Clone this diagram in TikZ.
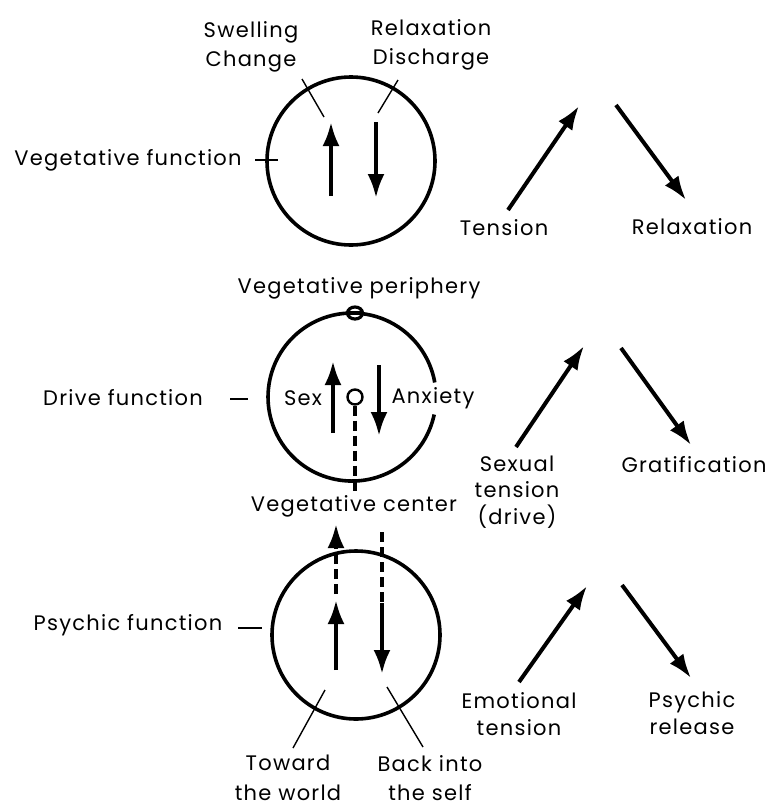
\documentclass[tikz,border=0pt]{standalone}
\usepackage{fontspec}
\setmainfont[LetterSpace=6]{Poppins}
\usetikzlibrary{arrows.meta}

\begin{document}
\begin{tikzpicture}[x=0.5pt,y=-0.5pt,
  lbl/.style={font=\fontsize{10.5}{14.8}\selectfont,inner sep=0pt,align=center},
  tight/.style={font=\fontsize{10.5}{13.3}\selectfont},
  ring/.style={line width=1.8pt},
  flow/.style={line width=2pt,-{Latex[length=12pt,width=8.5pt]}},
  dashflow/.style={flow,dash pattern=on 5pt off 2.5pt},
  lead/.style={line width=0.7pt},
  tick/.style={line width=1pt}]
\useasboundingbox (0,0) rectangle (774,809);

% vegetative function
\draw[ring] (351,161) circle (84);
\node[lbl] (vegfn) at (128,160) {Vegetative function};
\node[lbl] (swell) at (251,47) {Swelling\\Change};
\node[lbl] (relaxd) at (431,45) {Relaxation\\Discharge};
\coordinate (vt1) at (255,160); \coordinate (vt2) at (278,160);
\draw[tick] (vt1) -- (vt2);
\coordinate (sw1) at (302,79); \coordinate (sw2) at (324,117);
\coordinate (rd1) at (398,80); \coordinate (rd2) at (378,113);
\draw[lead] (sw1) -- (sw2);
\draw[lead] (rd1) -- (rd2);
\coordinate (vu1) at (331,196); \coordinate (vu2) at (331,122);
\coordinate (vd1) at (376,122); \coordinate (vd2) at (376,198);
\draw[flow] (vu1) -- (vu2);
\draw[flow] (vd1) -- (vd2);

% drive function
\draw[ring] (434.2,414.5) arc (12:350:84);
\draw[line width=1.6pt,fill=white] (355,313) ellipse (7.5 and 6);
\draw[ring] (348,313) -- (362,313);
\node[lbl] (periph) at (359,288) {Vegetative periphery};
\node[lbl] (drivefn) at (123,398) {Drive function};
\node[lbl] (sex) at (303,398) {Sex};
\node[lbl] (anx) at (433,398) {Anxiety};
\node[lbl] (vegctr) at (354,506) {Vegetative center};
\coordinate (dt1) at (230,399); \coordinate (dt2) at (248,399);
\draw[tick] (dt1) -- (dt2);
\node[circle,draw,line width=1.2pt,minimum size=7.5pt,inner sep=0pt] (core) at (355,397) {};
\coordinate (cd) at (355,493);
\draw[line width=2pt,dash pattern=on 5pt off 2.5pt] (core) -- (cd);
\coordinate (du1) at (333,433); \coordinate (du2) at (333,361);
\coordinate (dd1) at (379,365); \coordinate (dd2) at (379,436);
\draw[flow] (du1) -- (du2);
\draw[flow] (dd1) -- (dd2);

% psychic function
\draw[ring] (356,635) circle (84);
\node[lbl] (psyfn) at (128,625) {Psychic function};
\node[lbl] (toward) at (288,778) {Toward\\the world};
\node[lbl] (backin) at (430,778) {Back into\\the self};
\coordinate (pt1) at (238,628); \coordinate (pt2) at (262,628);
\draw[tick] (pt1) -- (pt2);
\coordinate (tw1) at (325,690); \coordinate (tw2) at (293,748);
\coordinate (bi1) at (387,687); \coordinate (bi2) at (423,747);
\draw[lead] (tw1) -- (tw2);
\draw[lead] (bi1) -- (bi2);
\coordinate (pu1) at (336,670); \coordinate (pu2) at (336,600);
\coordinate (pu3) at (336,594); \coordinate (pu4) at (336,524);
\coordinate (pd1) at (382,532); \coordinate (pd2) at (382,603);
\coordinate (pd3) at (382,674);
\draw[flow] (pu1) -- (pu2);
\draw[dashflow] (pu3) -- (pu4);
\draw[line width=2pt,dash pattern=on 5pt off 2.5pt] (pd1) -- (pd2);
\draw[flow] (pd2) -- (pd3);

% tension and release
\node[lbl] (tens) at (504,228) {Tension};
\node[lbl] (relax) at (692,227) {Relaxation};
\node[lbl,tight] (sextens) at (517,492) {Sexual\\tension\\(drive)};
\node[lbl] (grat) at (694,465) {Gratification};
\node[lbl,tight] (emot) at (519,714) {Emotional\\tension};
\node[lbl,tight] (psyrel) at (692,713) {Psychic\\release};
\coordinate (ta1) at (508,210); \coordinate (ta2) at (579,106);
\coordinate (ra1) at (616,105); \coordinate (ra2) at (686,200);
\coordinate (sa1) at (516,447); \coordinate (sa2) at (584,346);
\coordinate (ga1) at (621,348); \coordinate (ga2) at (691,445);
\coordinate (ea1) at (519,682); \coordinate (ea2) at (587,586);
\coordinate (pa1) at (622,585); \coordinate (pa2) at (691,678);
\foreach \a/\b in {ta1/ta2,ra1/ra2,sa1/sa2,ga1/ga2,ea1/ea2,pa1/pa2}{
  \draw[flow] (\a) -- (\b);
}
\end{tikzpicture}
\end{document}
